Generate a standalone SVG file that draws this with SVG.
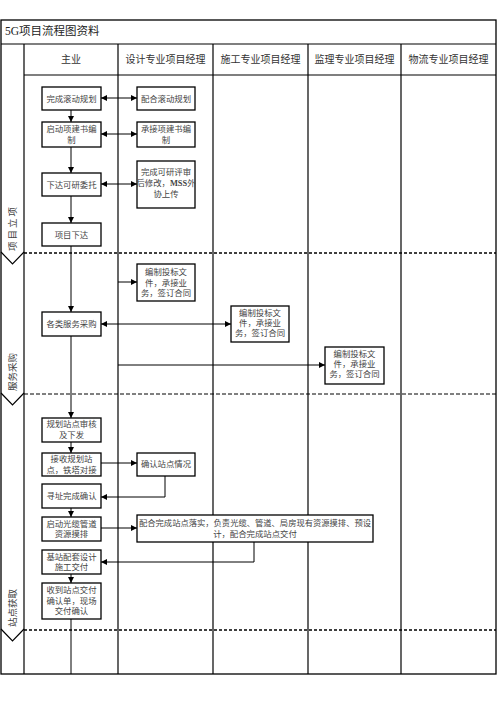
<svg xmlns="http://www.w3.org/2000/svg" width="497" height="703" viewBox="0 0 497 703">
<style>
.frame{fill:none;stroke:#000;stroke-width:1.3}
.grid{fill:none;stroke:#000;stroke-width:1.2}
.box{fill:#fff;stroke:#000;stroke-width:1.3}
.t{font-family:"Liberation Serif","Noto Sans CJK SC",serif;font-size:8.4px;fill:#444;text-anchor:middle}
.h{font-family:"Liberation Serif","Noto Sans CJK SC",serif;font-size:10px;fill:#333;text-anchor:middle}
.title{font-family:"Liberation Serif","Noto Sans CJK SC",serif;font-size:11.5px;fill:#222}
.ph{font-family:"Liberation Serif","Noto Sans CJK SC",serif;font-size:9.5px;fill:#444;text-anchor:middle}
.c{fill:none;stroke:#000;stroke-width:1}
.a{marker-end:url(#arr)}
.b{marker-start:url(#arr);marker-end:url(#arr)}
.dash1{stroke:#000;stroke-width:1.6;stroke-dasharray:3,2}
.dash2{stroke:#000;stroke-width:1;stroke-dasharray:4,2}
</style>
<defs>
<marker id="arr" viewBox="0 0 6 6" refX="6" refY="3" markerWidth="6" markerHeight="6" markerUnits="userSpaceOnUse" orient="auto-start-reverse">
<path d="M0,0 L6,3 L0,6 z" fill="#000"/>
</marker>
</defs>
<rect width="497" height="703" fill="#fff"/>
<g id="table">
<rect class="frame" x="1" y="20" width="495" height="654"/>
<line class="grid" x1="1" y1="44" x2="496" y2="44"/>
<line class="grid" x1="24" y1="75" x2="496" y2="75"/>
<line class="grid" x1="24" y1="44" x2="24" y2="674"/>
<line class="grid" x1="118" y1="44" x2="118" y2="674"/>
<line class="grid" x1="213" y1="44" x2="213" y2="674"/>
<line class="grid" x1="308" y1="44" x2="308" y2="674"/>
<line class="grid" x1="401" y1="44" x2="401" y2="674"/>
<text class="title" x="5" y="35">5G项目流程图资料</text>
<text class="h" x="71" y="63">主业</text>
<text class="h" x="165.5" y="63">设计专业项目经理</text>
<text class="h" x="260.5" y="63">施工专业项目经理</text>
<text class="h" x="354.5" y="63">监理专业项目经理</text>
<text class="h" x="448.5" y="63">物流专业项目经理</text>
<line class="dash1" x1="24" y1="253" x2="496" y2="253"/>
<line class="dash2" x1="24" y1="394" x2="496" y2="394"/>
<line class="dash1" x1="24" y1="630" x2="496" y2="630"/>
<polyline class="grid" points="1,252 12.5,264 24,252"/>
<polyline class="grid" points="1,393 12.5,405 24,393"/>
<polyline class="grid" points="1,629 12.5,641 24,629"/>
<text class="ph" transform="translate(15.5,228) rotate(-90)" letter-spacing="2">项目立项</text>
<text class="ph" transform="translate(15.5,372) rotate(-90)">服务采购</text>
<text class="ph" transform="translate(15.5,608) rotate(-90)">站点获取</text>
</g>
<g id="connectors">
<line class="c b" x1="101" y1="98" x2="137" y2="98"/>
<line class="c b" x1="101" y1="134" x2="137" y2="134"/>
<line class="c b" x1="101" y1="184" x2="137" y2="184"/>
<line class="c a" x1="71" y1="110" x2="71" y2="122"/>
<line class="c a" x1="71" y1="147" x2="71" y2="173"/>
<line class="c a" x1="71" y1="196" x2="71" y2="223"/>
<line class="c a" x1="71" y1="246" x2="71" y2="312"/>
<line class="c a" x1="118" y1="282" x2="137" y2="282"/>
<line class="c b" x1="101" y1="324" x2="231" y2="324"/>
<line class="c a" x1="118" y1="365" x2="325" y2="365"/>
<line class="c a" x1="71" y1="336" x2="71" y2="418"/>
<line class="c a" x1="71" y1="442" x2="71" y2="453"/>
<line class="c a" x1="101" y1="463" x2="137" y2="463"/>
<polyline class="c a" points="165,476 165,497 101,497"/>
<line class="c a" x1="71" y1="508" x2="71" y2="517"/>
<line class="c a" x1="101" y1="528" x2="137" y2="528"/>
<polyline class="c a" points="254,542 254,562 101,562"/>
<line class="c a" x1="71" y1="574" x2="71" y2="583"/>
<line class="c" x1="71" y1="619" x2="71" y2="674"/>
</g>
<g id="n1"><rect class="box" x="42" y="87" width="59" height="23"/><text class="t" x="71.5" y="101.5">完成滚动规划</text></g>
<g id="n2"><rect class="box" x="137" y="87" width="58" height="23"/><text class="t" x="166" y="101.5">配合滚动规划</text></g>
<g id="n3"><rect class="box" x="42" y="122" width="59" height="25"/><text class="t" x="71.5" y="132">启动项建书编</text><text class="t" x="71.5" y="143">制</text></g>
<g id="n4"><rect class="box" x="137" y="122" width="58" height="25"/><text class="t" x="166" y="132">承接项建书编</text><text class="t" x="166" y="143">制</text></g>
<g id="n5"><rect class="box" x="42" y="173" width="59" height="23"/><text class="t" x="71.5" y="187.5">下达可研委托</text></g>
<g id="n6"><rect class="box" x="137" y="161" width="58" height="47"/><text class="t" x="166" y="175">完成可研评审</text><text class="t" x="166" y="186">后修改，<tspan font-weight="bold">MSS</tspan>外</text><text class="t" x="166" y="197">协上传</text></g>
<g id="n7"><rect class="box" x="42" y="223" width="59" height="23"/><text class="t" x="71.5" y="237.5">项目下达</text></g>
<g id="n8"><rect class="box" x="137" y="264" width="58" height="37"/><text class="t" x="166" y="275">编制投标文</text><text class="t" x="166" y="285.5">件，承接业</text><text class="t" x="166" y="296">务，签订合同</text></g>
<g id="n9"><rect class="box" x="42" y="312" width="59" height="24"/><text class="t" x="71.5" y="327">各类服务采购</text></g>
<g id="n10"><rect class="box" x="231" y="306" width="58" height="36"/><text class="t" x="260" y="316">编制投标文</text><text class="t" x="260" y="326">件，承接业</text><text class="t" x="260" y="336">务，签订合同</text></g>
<g id="n11"><rect class="box" x="325" y="347" width="59" height="37"/><text class="t" x="354.5" y="357">编制投标文</text><text class="t" x="354.5" y="367">件，承接业</text><text class="t" x="354.5" y="377">务，签订合同</text></g>
<g id="n12"><rect class="box" x="42" y="418" width="59" height="24"/><text class="t" x="71.5" y="427">规划站点审核</text><text class="t" x="71.5" y="437.5">及下发</text></g>
<g id="n13"><rect class="box" x="42" y="453" width="59" height="23"/><text class="t" x="71.5" y="462">接收规划站</text><text class="t" x="71.5" y="472.5">点，铁塔对接</text></g>
<g id="n14"><rect class="box" x="137" y="453" width="58" height="23"/><text class="t" x="166" y="467">确认站点情况</text></g>
<g id="n15"><rect class="box" x="42" y="484" width="59" height="24"/><text class="t" x="71.5" y="499">寻址完成确认</text></g>
<g id="n16"><rect class="box" x="42" y="517" width="59" height="24"/><text class="t" x="71.5" y="526.5">启动光缆管道</text><text class="t" x="71.5" y="537">资源摸排</text></g>
<g id="n17"><rect class="box" x="137" y="515" width="236" height="27"/><text class="t" x="255" y="526" textLength="232" lengthAdjust="spacingAndGlyphs">配合完成站点落实，负责光缆、管道、局房现有资源摸排、预设</text><text class="t" x="255" y="537">计，配合完成站点交付</text></g>
<g id="n18"><rect class="box" x="42" y="550" width="59" height="24"/><text class="t" x="71.5" y="559.5">基站配套设计</text><text class="t" x="71.5" y="570">施工交付</text></g>
<g id="n19"><rect class="box" x="42" y="583" width="59" height="36"/><text class="t" x="71.5" y="593">收到站点交付</text><text class="t" x="71.5" y="603.5">确认单，现场</text><text class="t" x="71.5" y="614">交付确认</text></g>
</svg>
